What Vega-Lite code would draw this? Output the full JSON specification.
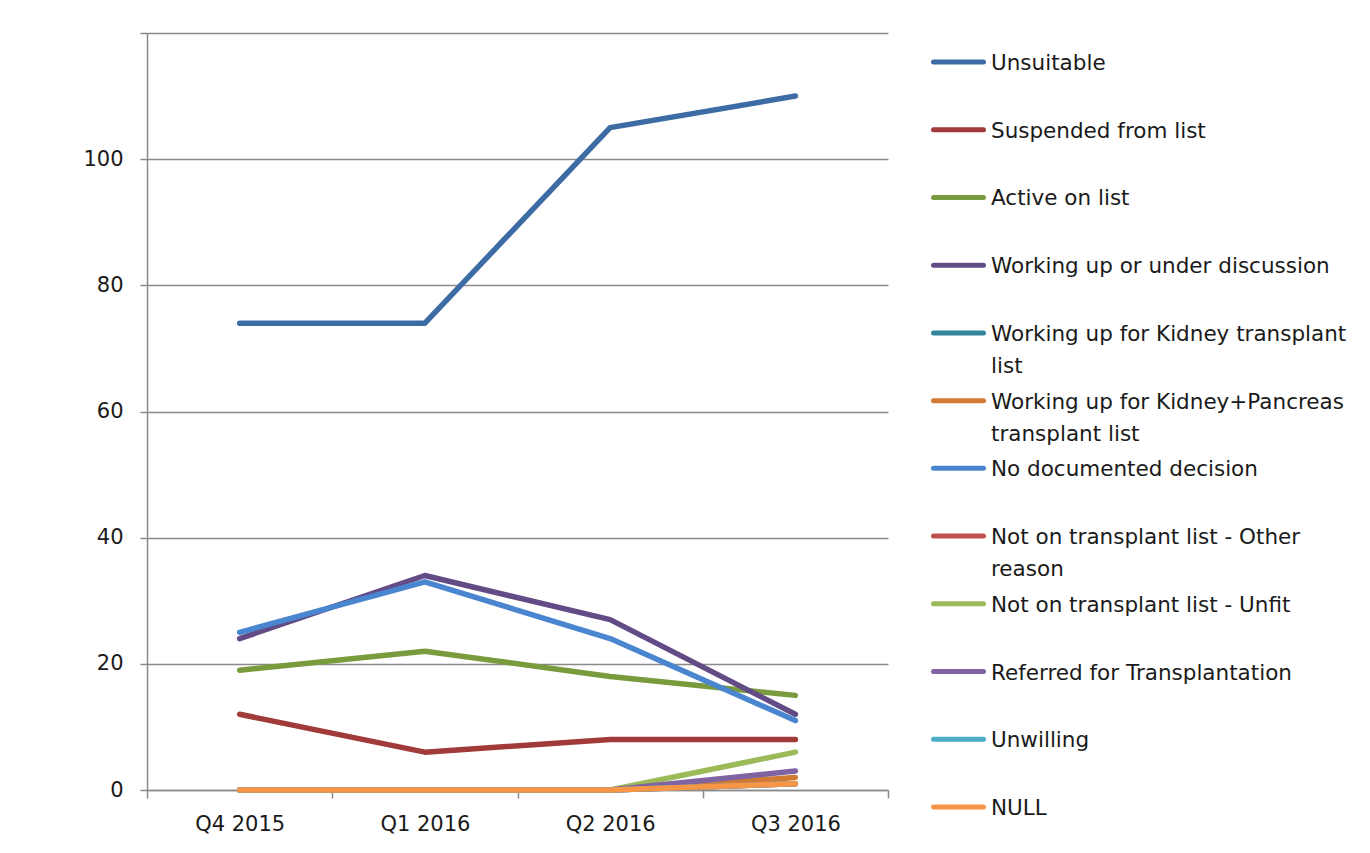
{
  "$schema": "https://vega.github.io/schema/vega-lite/v6.json",
  "background": "white",
  "padding": {"left": 82, "top": 32, "right": 0, "bottom": 0},
  "config": {
    "view": {"stroke": null},
    "font": "DejaVu Sans",
    "concat": {"spacing": 42}
  },
  "datasets": {
    "main": [
      {"quarter": "Q4 2015", "series": "Unsuitable", "value": 74},
      {"quarter": "Q1 2016", "series": "Unsuitable", "value": 74},
      {"quarter": "Q2 2016", "series": "Unsuitable", "value": 105},
      {"quarter": "Q3 2016", "series": "Unsuitable", "value": 110},
      {"quarter": "Q4 2015", "series": "Suspended from list", "value": 12},
      {"quarter": "Q1 2016", "series": "Suspended from list", "value": 6},
      {"quarter": "Q2 2016", "series": "Suspended from list", "value": 8},
      {"quarter": "Q3 2016", "series": "Suspended from list", "value": 8},
      {"quarter": "Q4 2015", "series": "Active on list", "value": 19},
      {"quarter": "Q1 2016", "series": "Active on list", "value": 22},
      {"quarter": "Q2 2016", "series": "Active on list", "value": 18},
      {"quarter": "Q3 2016", "series": "Active on list", "value": 15},
      {"quarter": "Q4 2015", "series": "Working up or under discussion", "value": 24},
      {"quarter": "Q1 2016", "series": "Working up or under discussion", "value": 34},
      {"quarter": "Q2 2016", "series": "Working up or under discussion", "value": 27},
      {"quarter": "Q3 2016", "series": "Working up or under discussion", "value": 12},
      {"quarter": "Q4 2015", "series": "Working up for Kidney transplant list", "value": 0},
      {"quarter": "Q1 2016", "series": "Working up for Kidney transplant list", "value": 0},
      {"quarter": "Q2 2016", "series": "Working up for Kidney transplant list", "value": 0},
      {"quarter": "Q3 2016", "series": "Working up for Kidney transplant list", "value": 1},
      {"quarter": "Q4 2015", "series": "Working up for Kidney+Pancreas transplant list", "value": 0},
      {"quarter": "Q1 2016", "series": "Working up for Kidney+Pancreas transplant list", "value": 0},
      {"quarter": "Q2 2016", "series": "Working up for Kidney+Pancreas transplant list", "value": 0},
      {"quarter": "Q3 2016", "series": "Working up for Kidney+Pancreas transplant list", "value": 2},
      {"quarter": "Q4 2015", "series": "No documented decision", "value": 25},
      {"quarter": "Q1 2016", "series": "No documented decision", "value": 33},
      {"quarter": "Q2 2016", "series": "No documented decision", "value": 24},
      {"quarter": "Q3 2016", "series": "No documented decision", "value": 11},
      {"quarter": "Q4 2015", "series": "Not on transplant list - Other reason", "value": 0},
      {"quarter": "Q1 2016", "series": "Not on transplant list - Other reason", "value": 0},
      {"quarter": "Q2 2016", "series": "Not on transplant list - Other reason", "value": 0},
      {"quarter": "Q3 2016", "series": "Not on transplant list - Other reason", "value": 1},
      {"quarter": "Q4 2015", "series": "Not on transplant list - Unfit", "value": 0},
      {"quarter": "Q1 2016", "series": "Not on transplant list - Unfit", "value": 0},
      {"quarter": "Q2 2016", "series": "Not on transplant list - Unfit", "value": 0},
      {"quarter": "Q3 2016", "series": "Not on transplant list - Unfit", "value": 6},
      {"quarter": "Q4 2015", "series": "Referred for Transplantation", "value": 0},
      {"quarter": "Q1 2016", "series": "Referred for Transplantation", "value": 0},
      {"quarter": "Q2 2016", "series": "Referred for Transplantation", "value": 0},
      {"quarter": "Q3 2016", "series": "Referred for Transplantation", "value": 3},
      {"quarter": "Q4 2015", "series": "Unwilling", "value": 0},
      {"quarter": "Q1 2016", "series": "Unwilling", "value": 0},
      {"quarter": "Q2 2016", "series": "Unwilling", "value": 0},
      {"quarter": "Q3 2016", "series": "Unwilling", "value": 1},
      {"quarter": "Q4 2015", "series": "NULL", "value": 0},
      {"quarter": "Q1 2016", "series": "NULL", "value": 0},
      {"quarter": "Q2 2016", "series": "NULL", "value": 0},
      {"quarter": "Q3 2016", "series": "NULL", "value": 1}
    ],
    "legend": [
      {"series": "Unsuitable", "label": "Unsuitable"},
      {"series": "Suspended from list", "label": "Suspended from list"},
      {"series": "Active on list", "label": "Active on list"},
      {"series": "Working up or under discussion", "label": "Working up or under discussion"},
      {"series": "Working up for Kidney transplant list", "label": "Working up for Kidney transplant\nlist"},
      {"series": "Working up for Kidney+Pancreas transplant list", "label": "Working up for Kidney+Pancreas\ntransplant list"},
      {"series": "No documented decision", "label": "No documented decision"},
      {"series": "Not on transplant list - Other reason", "label": "Not on transplant list - Other\nreason"},
      {"series": "Not on transplant list - Unfit", "label": "Not on transplant list - Unfit"},
      {"series": "Referred for Transplantation", "label": "Referred for Transplantation"},
      {"series": "Unwilling", "label": "Unwilling"},
      {"series": "NULL", "label": "NULL"}
    ]
  },
  "hconcat": [
    {
      "width": 741,
      "height": 757,
      "data": {"name": "main"},
      "mark": {"type": "line", "strokeWidth": 5.5, "strokeCap": "round", "strokeJoin": "round"},
      "encoding": {
        "x": {
          "field": "quarter",
          "type": "nominal",
          "sort": ["Q4 2015", "Q1 2016", "Q2 2016", "Q3 2016"],
          "scale": {"type": "band", "paddingInner": 0, "paddingOuter": 0},
          "axis": {
            "title": null,
            "labelAngle": 0,
            "tickBand": "extent",
            "tickSize": 8,
            "tickColor": "#8a8a8a",
            "tickWidth": 1.5,
            "domainColor": "#8a8a8a",
            "domainWidth": 1.5,
            "labelFontSize": 21,
            "labelColor": "#1a1a1a",
            "labelPadding": 15,
            "grid": false
          }
        },
        "y": {
          "field": "value",
          "type": "quantitative",
          "scale": {"domain": [0, 120], "nice": false},
          "axis": {
            "title": null,
            "values": [0, 20, 40, 60, 80, 100, 120],
            "labelExpr": "datum.value == 120 ? '' : datum.label",
            "tickSize": 7,
            "tickColor": "#8a8a8a",
            "tickWidth": 1.5,
            "domainColor": "#8a8a8a",
            "domainWidth": 1.5,
            "gridColor": "#8a8a8a",
            "gridWidth": 1.5,
            "labelFontSize": 21,
            "labelColor": "#1a1a1a",
            "labelPadding": 17
          }
        },
        "color": {
          "field": "series",
          "type": "nominal",
          "legend": null,
          "scale": {
            "domain": ["Unsuitable", "Suspended from list", "Active on list", "Working up or under discussion", "Working up for Kidney transplant list", "Working up for Kidney+Pancreas transplant list", "No documented decision", "Not on transplant list - Other reason", "Not on transplant list - Unfit", "Referred for Transplantation", "Unwilling", "NULL"],
            "range": ["#3D6CA4", "#A03B39", "#7A9A3E", "#634C86", "#31869B", "#D07A34", "#4A86CF", "#C0504D", "#9BBB59", "#8064A2", "#4BACC6", "#F79646"]
          }
        }
      }
    },
    {
      "width": 430,
      "height": 803,
      "data": {"name": "legend"},
      "encoding": {
        "y": {
          "field": "series",
          "type": "nominal",
          "sort": null,
          "scale": {"type": "point", "padding": 0.428},
          "axis": null
        }
      },
      "layer": [
        {
          "mark": {"type": "rule", "strokeWidth": 5, "strokeCap": "round"},
          "encoding": {
            "x": {"datum": -1.5, "type": "quantitative", "scale": {"domain": [0, 430], "nice": false}, "axis": null},
            "x2": {"datum": 48.5},
            "color": {
              "field": "series",
              "type": "nominal",
              "legend": null,
              "scale": {
                "domain": ["Unsuitable", "Suspended from list", "Active on list", "Working up or under discussion", "Working up for Kidney transplant list", "Working up for Kidney+Pancreas transplant list", "No documented decision", "Not on transplant list - Other reason", "Not on transplant list - Unfit", "Referred for Transplantation", "Unwilling", "NULL"],
                "range": ["#3D6CA4", "#A03B39", "#7A9A3E", "#634C86", "#31869B", "#D07A34", "#4A86CF", "#C0504D", "#9BBB59", "#8064A2", "#4BACC6", "#F79646"]
              }
            }
          }
        },
        {
          "mark": {"type": "text", "align": "left", "baseline": "alphabetic", "dy": 8, "fontSize": 21.5, "lineBreak": "\n", "lineHeight": 32, "color": "#1a1a1a"},
          "encoding": {
            "x": {"datum": 56, "type": "quantitative"},
            "text": {"field": "label"}
          }
        }
      ]
    }
  ]
}
